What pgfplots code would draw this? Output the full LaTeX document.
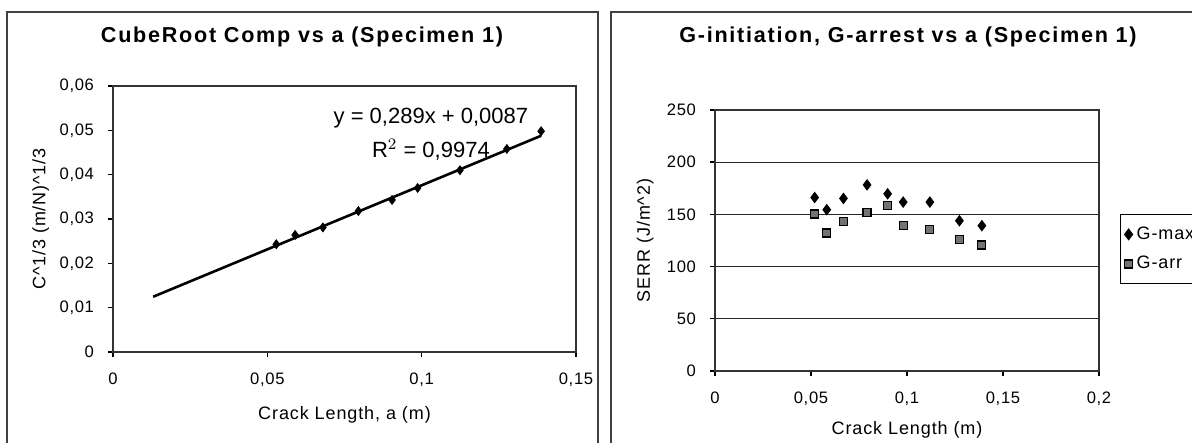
\documentclass[border=0pt]{standalone}
\usepackage{fontspec}
\setmainfont{Liberation Sans}
\newfontfamily\titlefont[LetterSpace=8]{Liberation Sans}
\newfontfamily\labfont[LetterSpace=5]{Liberation Sans}
\newfontfamily\tickfont[LetterSpace=4]{Liberation Sans}
\usepackage{pgfplots}
\pgfplotsset{compat=1.18}
\usepackage{pgfplotstable}

\pgfplotstableread{
a c
0.0529 0.0243
0.0590 0.0264
0.0680 0.0281
0.0795 0.0318
0.0904 0.0343
0.0987 0.0370
0.1124 0.0410
0.1276 0.0458
0.1387 0.0498
}\comptable

\pgfplotstableread{
a gmax garr
0.0519 166.2 150.3
0.0582 154.5 132.2
0.0669 165.3 143.3
0.0792 178.3 151.9
0.0899 169.7 158.6
0.0980 161.8 139.2
0.1119 161.8 135.7
0.1273 143.9 125.8
0.1390 139.2 120.7
}\gtable

\begin{document}
\begin{tikzpicture}
\path[use as bounding box] (0pt,0pt) rectangle (596pt,221.5pt);
% panel frames
\draw[line width=0.7pt, black!75] (3.5pt,-5pt) -- (3.5pt,215.5pt) -- (299pt,215.5pt) -- (299pt,-5pt);
\draw[line width=0.7pt, black!75] (305.5pt,-5pt) -- (305.5pt,215.5pt) -- (600pt,215.5pt);
% titles
\node[font=\titlefont\bfseries\fontsize{10.8}{13}\selectfont] at (151pt,203pt) {CubeRoot Comp vs a (Specimen 1)};
\node[font=\titlefont\bfseries\fontsize{10.8}{13}\selectfont] at (454pt,203pt) {G-initiation, G-arrest vs a (Specimen 1)};

\begin{axis}[
  at={(56.5pt,45.5pt)}, anchor=south west,
  scale only axis, width=231.5pt, height=133pt,
  xmin=0, xmax=0.15, ymin=0, ymax=0.06,
  scaled x ticks=false, scaled y ticks=false,
  xtick={0,0.05,0.1,0.15}, xticklabels={0,{0,05},{0,1},{0,15}},
  ytick={0,0.01,0.02,0.03,0.04,0.05,0.06},
  yticklabels={0,{0,01},{0,02},{0,03},{0,04},{0,05},{0,06}},
  tick align=outside, tick pos=left, major tick length=2.5pt,
  axis line style={line width=0.7pt, black!80},
  tick style={line width=0.7pt, black},
  tick label style={font=\tickfont\fontsize{8.3}{10}\selectfont},
  yticklabel style={xshift=-3.5pt},
  xticklabel style={yshift=-4.5pt},
  label style={font=\labfont\fontsize{9}{11}\selectfont},
  xlabel={Crack Length, a (m)},
  xlabel style={at={(axis description cs:0.5,-0.237)}, anchor=center},
  ylabel={C\^{}1/3 (m/N)\^{}1/3},
  ylabel style={at={(axis description cs:-0.156,0.5)}, anchor=center, rotate=0},
  clip=false,
]
\addplot[black, line width=1.3pt] coordinates {(0.013,0.01246) (0.1387,0.04878)};
\addplot[only marks, mark=diamond*, mark size=2.2pt, black] table[x=a,y=c] {\comptable};
\node[font=\fontsize{11}{13}\selectfont, fill=white, inner sep=0.5pt] at (axis cs:0.1030,0.0528) {y = 0,289x + 0,0087};
\node[font=\fontsize{11}{13}\selectfont, inner sep=0.5pt] at (axis cs:0.1030,0.0456) {R$^2$ = 0,9974};
\end{axis}

\begin{axis}[
  at={(357.5pt,36pt)}, anchor=south west,
  scale only axis, width=192pt, height=130.5pt,
  xmin=0, xmax=0.2, ymin=0, ymax=250,
  scaled x ticks=false, scaled y ticks=false,
  xtick={0,0.05,0.1,0.15,0.2}, xticklabels={0,{0,05},{0,1},{0,15},{0,2}},
  ytick={0,50,100,150,200,250},
  yticklabels={0,50,100,150,200,250},
  ymajorgrids, grid style={line width=0.6pt, black!85},
  tick align=outside, tick pos=left, major tick length=2.5pt,
  axis line style={line width=0.7pt, black!80},
  tick style={line width=0.7pt, black},
  tick label style={font=\tickfont\fontsize{8.3}{10}\selectfont},
  yticklabel style={xshift=-3.5pt},
  xticklabel style={yshift=-4.5pt},
  label style={font=\labfont\fontsize{9}{11}\selectfont},
  xlabel={Crack Length (m)},
  xlabel style={at={(axis description cs:0.5,-0.226)}, anchor=center},
  ylabel={SERR (J/m\^{}2)},
  ylabel style={at={(axis description cs:-0.182,0.5)}, anchor=center, rotate=0},
  legend style={at={(axis description cs:1.0547,0.6015)}, anchor=north west, draw=black, line width=0.6pt,
    font=\labfont\fontsize{9}{11}\selectfont, row sep=3pt, inner xsep=2pt, inner ysep=4pt},
  legend cell align=left,
  clip=false,
]
\addplot[only marks, mark=diamond*, mark size=2.6pt, black] table[x=a,y=gmax] {\gtable};
\addlegendentry{G-max}
\addplot[only marks, mark=square*, mark size=2pt, mark options={fill=black!55, draw=black, line width=0.6pt}] table[x=a,y=garr] {\gtable};
\addlegendentry{G-arr}
\end{axis}
\end{tikzpicture}
\end{document}
